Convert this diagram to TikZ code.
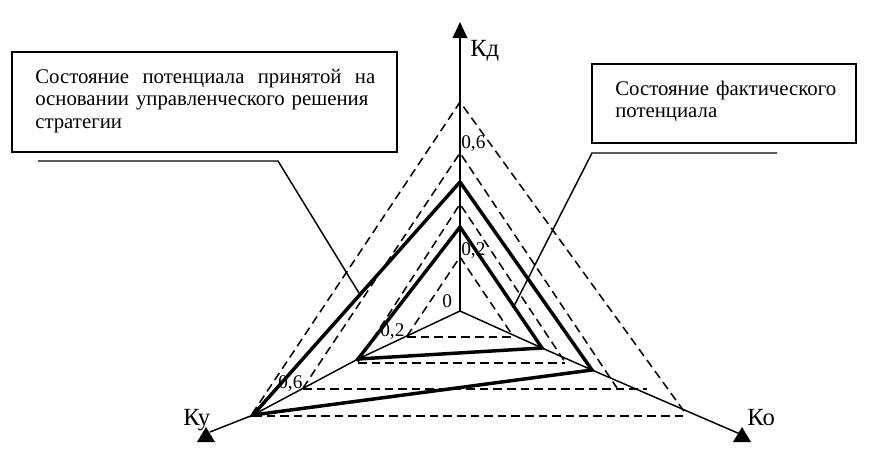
\documentclass[tikz,border=0pt]{standalone}
\usepackage{fontspec}
\setmainfont{Liberation Serif}
\begin{document}
\begin{tikzpicture}[x=0.75pt,y=-0.75pt,
  axisline/.style={line width=1.1pt},
  boldline/.style={line width=2.6pt, line join=miter},
  dsh/.style={line width=1.15pt, dash pattern=on 6.4pt off 3.8pt},
  boxstyle/.style={draw, line width=1.6pt},
  callout/.style={line width=1.1pt},
  boxtext/.style={inner sep=0, anchor=base west, align=left, font=\fontsize{15.6}{17}\selectfont},
  lbl/.style={inner sep=0, anchor=base west, font=\fontsize{18.5}{20}\selectfont},
  num/.style={inner sep=0, anchor=base west, font=\fontsize{14.5}{16}\selectfont}
]
\useasboundingbox (0,0) rectangle (882,461);

% --- named points ---
\coordinate (O) at (460,311);
\coordinate (KdTip) at (460,22);
\coordinate (KyTip) at (206,427);
\coordinate (KoTip) at (742,427);
% bold polygons
\coordinate (B1) at (460,182);
\coordinate (B2) at (592,370);
\coordinate (B3) at (253,415);
\coordinate (C1) at (460,227);
\coordinate (C2) at (542,348);
\coordinate (C3) at (358,359);

% --- dashed level triangles ---
\draw[dsh] (407,336) -- (460,257) -- (513,336);
\draw[dsh] (407,337) -- (515,337);
\draw[dsh] (358,362) -- (460,204) -- (565,362);
\draw[dsh] (358,363) -- (565,363);
\draw[dsh] (303,388) -- (460,153) -- (617,388);
\draw[dsh] (303,389) -- (647,389);
\draw[dsh] (252,414) -- (460,102) -- (686,414);
\draw[dsh] (253,416) -- (688,416);

% --- axes ---
\draw[axisline] (O) -- (460,34);
\draw[axisline] (O) -- (C3) -- (B3) -- (210,432);
\draw[axisline] (O) -- (C2) -- (B2) -- (740,434);
\fill (KdTip) -- ++(-7.5,16) -- ++(15,0) -- cycle;
\fill (KyTip) -- ++(-9,15) -- ++(18,0) -- cycle;
\fill (KoTip) -- ++(-9,15) -- ++(18,0) -- cycle;

% --- bold polygons ---
\draw[boldline] (B1) -- (B2) -- (B3) -- cycle;
\draw[boldline] (C1) -- (C2) -- (C3) -- cycle;

% --- callouts ---
\draw[boxstyle] (12,52) rectangle (397,152);
\draw[boxstyle] (592,64) rectangle (856,143);
\coordinate (LA) at (38,161);
\coordinate (LB) at (278,161);
\coordinate (LC) at (359,293);
\coordinate (RA) at (777,153);
\coordinate (RB) at (592,153);
\coordinate (RC) at (513,308);
\draw[callout] (LA) -- (LB) -- (LC);
\draw[callout] (RA) -- (RB) -- (RC);

\node[boxtext, text width=256pt] (lefttext) at (35,83)
  {\hbox to 255pt{Состояние\hfill потенциала\hfill принятой\hfill на}\\основании управленческого решения\\стратегии};
\node[boxtext, text width=190pt] (righttext) at (615,95)
  {Состояние фактического\\потенциала};

% --- axis labels ---
\node[lbl] (kd) at (470,56) {Кд};
\node[lbl] (ky) at (183,425) {Ку};
\node[lbl] (ko) at (747,425) {Ко};

% --- scale numbers ---
\node[num] (n06a) at (461,148) {0,6};
\node[num] (n02a) at (461,255) {0,2};
\node[num] (n0) at (442,307) {0};
\node[num] (n02b) at (380,336) {0,2};
\node[num] (n06b) at (278,388) {0,6};
\end{tikzpicture}
\end{document}
